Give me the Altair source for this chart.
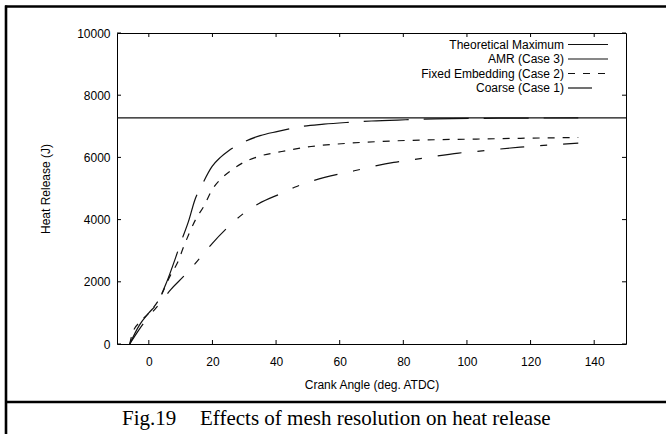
import altair as alt
import pandas as pd

# ---- data ----
theoretical_max = 7270

amr_deg = [-6, -3, 0, 2.7, 5.3, 8.4, 10, 12.5, 14.5, 16.6, 19.9, 22.5, 25.1, 29.8, 35, 40.6, 47.9, 55, 62, 70, 80.7, 90, 110, 135]
amr_val = [0, 600, 1000, 1330, 1910, 2770, 3250, 3950, 4640, 5090, 5710, 6000, 6215, 6494, 6700, 6835, 6995, 7070, 7123, 7170, 7210, 7240, 7260, 7270]

fixed_deg = [-6, -5.1, -2.5, 0.1, 3.2, 6.9, 9, 11, 14.7, 17.3, 19.9, 23, 26.1, 30, 34.5, 41.8, 51, 63.5, 77, 90.6, 103, 120, 135]
fixed_val = [0, 360, 735, 1005, 1430, 2230, 2610, 3140, 4000, 4430, 4960, 5340, 5600, 5850, 6030, 6190, 6350, 6460, 6530, 6570, 6590, 6620, 6640]

coarse_deg = [-6, -3, 0.1, 3.2, 6.9, 11, 15.7, 19.9, 24.6, 29.3, 34.5, 41.8, 45.8, 52, 64.6, 77, 83.3, 97.4, 102.6, 116.7, 135]
coarse_val = [0, 470, 900, 1270, 1750, 2180, 2720, 3230, 3730, 4160, 4510, 4850, 5040, 5260, 5570, 5840, 5930, 6140, 6190, 6330, 6460]

legend_names = ["Theoretical Maximum", "AMR (Case 3)", "Fixed Embedding (Case 2)", "Coarse (Case 1)"]
x_ticks = [0, 20, 40, 60, 80, 100, 120, 140]
y_ticks = [0, 2000, 4000, 6000, 8000, 10000]

x_title = "Crank Angle (deg. ATDC)"
y_title = "Heat Release (J)"
caption_fig = "Fig.19"
caption_text = "Effects of mesh resolution on heat release"

# ---- layout ----
W, H = 509, 311
SANS = "Liberation Sans"
SERIF = "Liberation Serif"
INK = "#111111"

x_scale = alt.Scale(domain=[-10, 150], nice=False, zero=False)
y_scale = alt.Scale(domain=[0, 10000], nice=False)

x_axis = alt.Axis(values=x_ticks, tickSize=0, domain=False, grid=False, format="d",
                  labelFont=SANS, labelFontSize=12, labelColor="black", labelPadding=12,
                  title=x_title, titleFont=SANS, titleFontSize=12, titleFontWeight="normal",
                  titleColor="black", titleX=W / 2, titleY=40, titleBaseline="middle")
y_axis = alt.Axis(values=y_ticks, tickSize=0, domain=False, grid=False, format="d",
                  labelFont=SANS, labelFontSize=12, labelColor="black", labelPadding=7,
                  title=y_title, titleFont=SANS, titleFontSize=12, titleFontWeight="normal",
                  titleColor="black", titleX=-72, titleY=H / 2, titleBaseline="middle")


def X(field):
    return alt.X(field, scale=x_scale, axis=x_axis)


def Y(field):
    return alt.Y(field, scale=y_scale, axis=y_axis)


def series_df(deg, val):
    return pd.DataFrame({"deg": deg, "val": val})


dashes = {
    "AMR (Case 3)": [45, 15],
    "Fixed Embedding (Case 2)": [7, 8],
    "Coarse (Case 1)": [24, 16, 7, 16],
}

layers = []

# theoretical maximum
layers.append(alt.Chart(pd.DataFrame({"val": [theoretical_max]})).mark_rule(color=INK, strokeWidth=1.2)
              .encode(y=Y("val:Q")))

for deg, val, name in [(amr_deg, amr_val, "AMR (Case 3)"),
                       (fixed_deg, fixed_val, "Fixed Embedding (Case 2)"),
                       (coarse_deg, coarse_val, "Coarse (Case 1)")]:
    layers.append(alt.Chart(series_df(deg, val)).mark_line(
        color=INK, strokeWidth=1.2, strokeDash=dashes[name], interpolate="monotone")
        .encode(x=X("deg:Q"), y=Y("val:Q")))

# inward ticks on all four sides (mirror ticks)
xt = pd.DataFrame({"t": x_ticks})
yt = pd.DataFrame({"t": y_ticks})
TL = 4
for y0, y1 in [(H, H - TL), (0, TL)]:
    layers.append(alt.Chart(xt).mark_rule(color="black", strokeWidth=1).encode(
        x=X("t:Q"), y=alt.value(y0), y2=alt.value(y1)))
for x0, x1 in [(0, TL), (W, W - TL)]:
    layers.append(alt.Chart(yt).mark_rule(color="black", strokeWidth=1).encode(
        y=Y("t:Q"), x=alt.value(x0), x2=alt.value(x1)))

# legend (top right, inside the plot)
leg_text_x = 447
leg_line_x0, leg_line_x1 = 451, 491
leg_y0, leg_dy = 11.5, 14.5
for i, name in enumerate(legend_names):
    yy = leg_y0 + leg_dy * i
    layers.append(alt.Chart(pd.DataFrame({"name": [name]})).mark_text(
        align="right", baseline="middle", font=SANS, fontSize=12, color="black")
        .encode(text="name:N", x=alt.value(leg_text_x), y=alt.value(yy)))
    kw = {"color": INK, "strokeWidth": 1.2}
    if name in dashes:
        kw["strokeDash"] = dashes[name]
    layers.append(alt.Chart(pd.DataFrame({"name": [name]})).mark_rule(**kw).encode(
        x=alt.value(leg_line_x0), x2=alt.value(leg_line_x1), y=alt.value(yy)))

# outer frame pieces and caption separator
frame = [(-112, 549, -26.5, -26.5), (-111, -111, -27.5, 401), (-112, 549, 369, 369)]
for x0, x1, y0, y1 in frame:
    layers.append(alt.Chart(pd.DataFrame({"k": [0]})).mark_rule(color="black", strokeWidth=2.6).encode(
        x=alt.value(x0), x2=alt.value(x1), y=alt.value(y0), y2=alt.value(y1)))

# caption
layers.append(alt.Chart(pd.DataFrame({"c": [caption_fig]})).mark_text(
    align="left", baseline="alphabetic", font=SERIF, fontSize=21, color="black")
    .encode(text="c:N", x=alt.value(5), y=alt.value(392)))
layers.append(alt.Chart(pd.DataFrame({"c": [caption_text]})).mark_text(
    align="left", baseline="alphabetic", font=SERIF, fontSize=21, color="black")
    .encode(text="c:N", x=alt.value(83), y=alt.value(392)))

chart = alt.layer(*layers).properties(
    width=W, height=H,
    autosize=alt.AutoSizeParams(type="none"),
    padding={"left": 117, "top": 33, "right": 40, "bottom": 90},
    background="white",
).configure_view(stroke="black", strokeWidth=1)

chart.save("out.html", embed_options={"renderer": "svg", "actions": False})
